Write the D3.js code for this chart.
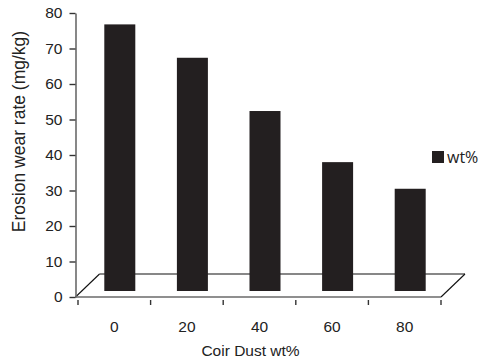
<!DOCTYPE html>
<html>
<head>
<meta charset="utf-8">
<script src="https://cdn.jsdelivr.net/npm/d3@7"></script>
<style>
  html, body { margin: 0; padding: 0; background: #fff; }
  svg { display: block; font-family: "Liberation Sans", Arial, sans-serif; }
</style>
</head>
<body>
<svg id="chart" width="483" height="362"></svg>
<script>
// Erosion wear rate for each coir dust loading
const categories = ["0", "20", "40", "60", "80"];
const wearRate = [75.1, 65.7, 50.7, 36.3, 28.8];
const yTicks = [0, 10, 20, 30, 40, 50, 60, 70, 80];
const seriesName = "wt%";

const svg = d3.select("#chart");
const barColor = "#231f20";

const y = d3.scaleLinear().domain([0, 80]).range([297, 13]);
const x = d3.scaleBand().domain(categories).range([78, 441]).paddingInner(0).paddingOuter(0);

// 3D floor depth
const depth = { dx: 24, dy: -23 };
// bars sit part-way into the floor
const barShift = { dx: 5.5, dy: -6 };
const barWidth = 31;

const floorLeft = 75.5, floorRight = 441;

// back edge of the floor and its side edges
svg.append("line")
  .attr("x1", floorLeft + depth.dx).attr("x2", floorRight + depth.dx)
  .attr("y1", y(0) + depth.dy).attr("y2", y(0) + depth.dy)
  .attr("stroke", "#111").attr("stroke-width", 1.1);
[floorLeft, floorRight].forEach(fx => {
  svg.append("line")
    .attr("x1", fx).attr("y1", y(0))
    .attr("x2", fx + depth.dx).attr("y2", y(0) + depth.dy)
    .attr("stroke", "#111").attr("stroke-width", 1.1);
});

// bars
svg.append("g").selectAll("rect")
  .data(wearRate)
  .join("rect")
  .attr("x", (d, i) => x(categories[i]) + x.bandwidth() / 2 + barShift.dx - barWidth / 2)
  .attr("y", d => y(d) + barShift.dy)
  .attr("width", barWidth)
  .attr("height", d => y(0) - y(d))
  .attr("fill", barColor);

// front edge (category axis line)
svg.append("line")
  .attr("x1", floorLeft).attr("x2", floorRight)
  .attr("y1", y(0)).attr("y2", y(0))
  .attr("stroke", "#6a6a6a").attr("stroke-width", 1.6);

// value axis
const yAxis = svg.append("g")
  .attr("transform", `translate(${floorLeft},0)`)
  .call(d3.axisLeft(y).tickValues(yTicks).tickSize(6).tickSizeOuter(0).tickPadding(7));
yAxis.select(".domain").attr("stroke", "#6a6a6a").attr("stroke-width", 1.6);
yAxis.selectAll(".tick line").attr("stroke", "#333").attr("stroke-width", 1.4);
yAxis.selectAll(".tick text")
  .attr("font-size", 15.5).attr("fill", "#222")
  .attr("font-family", "'Liberation Sans', Arial, sans-serif");

// category boundary ticks below the floor
const bounds = d3.range(categories.length + 1).map(i => x.range()[0] + i * x.step());
svg.append("g").selectAll("line")
  .data(bounds)
  .join("line")
  .attr("x1", d => d).attr("x2", d => d)
  .attr("y1", y(0) + 3).attr("y2", y(0) + 8)
  .attr("stroke", "#333").attr("stroke-width", 1.4);

// category labels
const xAxis = svg.append("g")
  .attr("transform", `translate(0,${y(0)})`)
  .call(d3.axisBottom(x).tickSize(0).tickPadding(24));
xAxis.select(".domain").remove();
xAxis.selectAll(".tick text")
  .attr("font-size", 15.5).attr("fill", "#222")
  .attr("font-family", "'Liberation Sans', Arial, sans-serif");

// axis titles
svg.append("text")
  .attr("x", 250.5).attr("y", 356)
  .attr("text-anchor", "middle")
  .attr("font-size", 15.5).attr("fill", "#222")
  .text("Coir Dust wt%");

svg.append("text")
  .attr("transform", "translate(25,131.5) rotate(-90)")
  .attr("text-anchor", "middle")
  .attr("font-size", 17.5).attr("fill", "#222")
  .text("Erosion wear rate (mg/kg)");

// legend
const legend = svg.append("g").attr("transform", "translate(432,151)");
legend.append("rect").attr("width", 12).attr("height", 12).attr("fill", barColor);
legend.append("text")
  .attr("x", 15).attr("y", 12)
  .attr("font-size", 16).attr("fill", "#222")
  .attr("font-family", "'Open Sans', 'Liberation Sans', sans-serif")
  .text(seriesName);
</script>
</body>
</html>
